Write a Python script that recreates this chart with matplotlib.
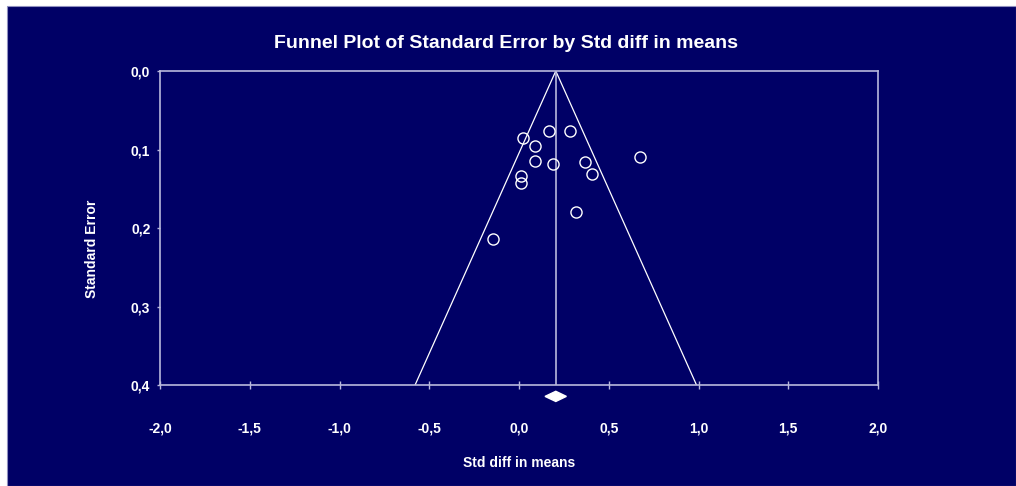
import matplotlib
matplotlib.use("Agg")
import matplotlib.pyplot as plt
from matplotlib.patches import Rectangle, Polygon
import numpy as np

# Data
std_diff = [0.024, 0.167, 0.282, 0.091, 0.087, 0.189, 0.366, 0.408, 0.013, 0.013, 0.316, -0.143, 0.672]
std_err = [0.085, 0.076, 0.077, 0.095, 0.115, 0.119, 0.116, 0.131, 0.134, 0.143, 0.179, 0.214, 0.110]
mean_effect = 0.205
ci_low, ci_high = 0.145, 0.264
z_val = 1.96
se_max = 0.4
x_ticks = [-2.0, -1.5, -1.0, -0.5, 0.0, 0.5, 1.0, 1.5, 2.0]
y_ticks = [0.0, 0.1, 0.2, 0.3, 0.4]

navy = "#000066"
axis_col = "#b8b8dc"
font = "Liberation Sans"

fig = plt.figure(figsize=(10.16, 4.86), dpi=100, facecolor="white")
# navy panel with thin light edge
bg = Rectangle((7 / 1016, 0), 1 - 7 / 1016, 1 - 6 / 486, transform=fig.transFigure,
               facecolor=navy, edgecolor="#9090c0", linewidth=0.8, zorder=-10)
fig.patches.append(bg)

ax = fig.add_axes([160 / 1016, 1 - 385 / 486, 718 / 1016, 314 / 486])
ax.set_zorder(5)
ax.set_facecolor(navy)
ax.set_xlim(-2.0, 2.0)
ax.set_ylim(se_max, 0.0)

for s in ax.spines.values():
    s.set_color(axis_col)
    s.set_linewidth(1.2)

# funnel
ax.plot([mean_effect - z_val * se_max, mean_effect, mean_effect + z_val * se_max],
        [se_max, 0.0, se_max], color="white", linewidth=0.9, zorder=2)
ax.axvline(mean_effect, color=axis_col, linewidth=1.2, zorder=2)

ax.plot(std_diff, std_err, linestyle="none", marker="o", markersize=8,
        markerfacecolor="none", markeredgecolor="white", markeredgewidth=1.0, zorder=3)

# summary diamond below axis
dy = 0.0065
yc = se_max + 0.0145
diamond = Polygon([[ci_low, yc], [mean_effect, yc - dy], [ci_high, yc], [mean_effect, yc + dy]],
                  closed=True, facecolor="white", edgecolor="white", clip_on=False, zorder=4)
ax.add_patch(diamond)

ax.set_xticks(x_ticks)
ax.set_yticks(y_ticks)
ax.set_xticklabels([f"{v:.1f}".replace(".", ",") for v in x_ticks])
ax.set_yticklabels([f"{v:.1f}".replace(".", ",") for v in y_ticks])
ax.tick_params(axis="x", direction="inout", length=6, width=1, color=axis_col,
               pad=23, labelcolor="white", labelsize=10)
ax.tick_params(axis="y", direction="out", length=2.5, width=1, color=axis_col,
               pad=4.5, labelcolor="white", labelsize=10)
for lab in ax.get_xticklabels() + ax.get_yticklabels():
    lab.set_fontfamily(font)
    lab.set_fontweight("bold")

fig.text(506 / 1016, 1 - 43 / 486, "Funnel Plot of Standard Error by Std diff in means",
         ha="center", va="center", color="white", fontsize=14, fontweight="bold", fontfamily=font)
fig.text(519 / 1016, 1 - 463 / 486, "Std diff in means", ha="center", va="center",
         color="white", fontsize=10, fontweight="bold", fontfamily=font)
fig.text(92 / 1016, 1 - 249 / 486, "Standard Error", ha="center", va="center", rotation=90,
         color="white", fontsize=10, fontweight="bold", fontfamily=font)

fig.savefig("out.png", dpi=100, facecolor=fig.get_facecolor())
